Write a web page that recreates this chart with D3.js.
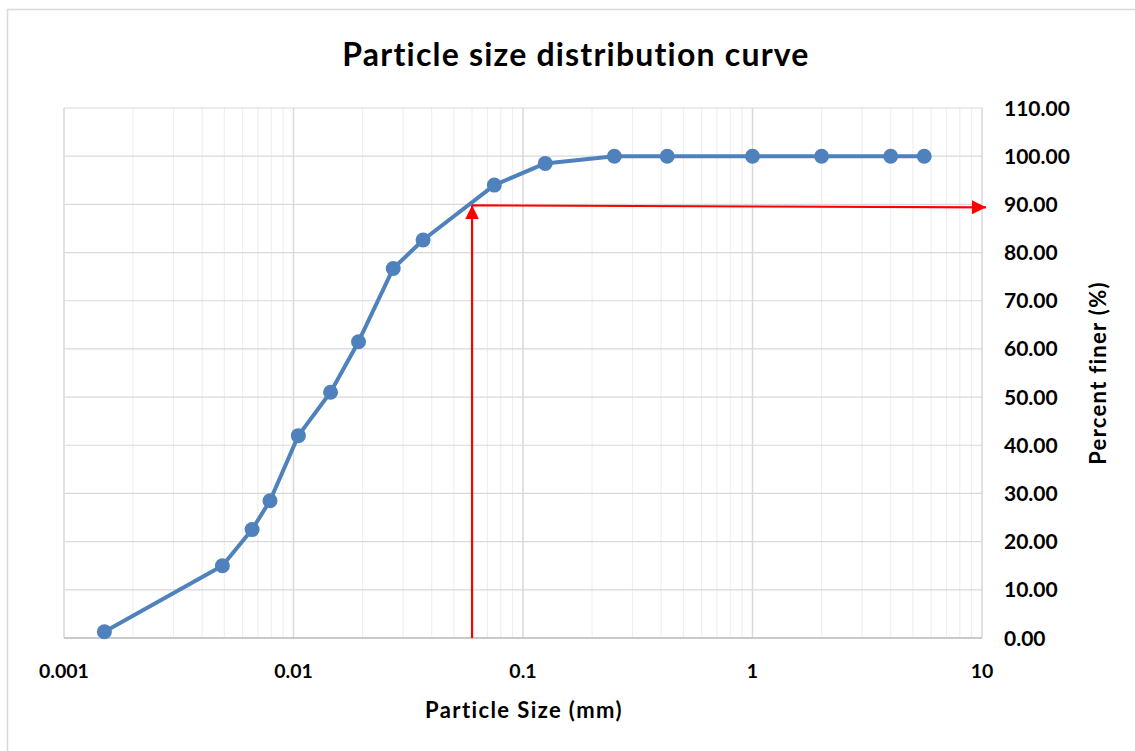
<!DOCTYPE html>
<html>
<head>
<meta charset="utf-8">
<script src="https://cdn.jsdelivr.net/npm/d3@7"></script>
<style>
  body { margin: 0; background: #fff; }
  text { font-family: Lato, "Open Sans", sans-serif; font-weight: bold; fill: #000; }
</style>
</head>
<body>
<div id="chart"></div>
<script>
// sieve / hydrometer data
const sizes   = [0.0015, 0.0049, 0.0066, 0.0079, 0.0105, 0.0145, 0.0192, 0.0272, 0.0367, 0.075, 0.125, 0.25, 0.425, 1, 2, 4, 5.6];
const finer   = [1.3, 15.0, 22.5, 28.5, 42.0, 51.0, 61.5, 76.7, 82.6, 94.0, 98.5, 100, 100, 100, 100, 100, 100];
const xTicks  = [0.001, 0.01, 0.1, 1, 10];
const yTicks  = [0, 10, 20, 30, 40, 50, 60, 70, 80, 90, 100, 110];
// D90 construction lines
const d90     = 0.06;
const p90     = 90;

const W = 1135, H = 751;
const margin = { left: 64, right: 153, top: 108, bottom: 113 };

const svg = d3.select('#chart').append('svg')
  .attr('width', W).attr('height', H);

// outer chart border
svg.append('rect')
  .attr('x', 7.5).attr('y', 9.5)
  .attr('width', W).attr('height', H)
  .attr('fill', '#fff').attr('stroke', '#d9d9d9').attr('stroke-width', 1.5);

const x = d3.scaleLog().domain([0.001, 10]).range([margin.left, W - margin.right]);
const y = d3.scaleLinear().domain([0, 110]).range([H - margin.bottom, margin.top]);

const g = svg.append('g');

// minor vertical gridlines
const minor = [];
for (let e = -3; e < 1; e++) {
  for (let k = 2; k <= 9; k++) minor.push(k * Math.pow(10, e));
}
g.selectAll('.minor').data(minor).enter().append('line')
  .attr('x1', d => x(d)).attr('x2', d => x(d))
  .attr('y1', y(0)).attr('y2', y(110))
  .attr('stroke', '#efefef').attr('stroke-width', 1.2);

// horizontal gridlines
g.selectAll('.hgrid').data(yTicks).enter().append('line')
  .attr('x1', x(0.001)).attr('x2', x(10))
  .attr('y1', d => y(d)).attr('y2', d => y(d))
  .attr('stroke', '#d9d9d9').attr('stroke-width', 1.2);

// major vertical gridlines
g.selectAll('.vgrid').data(xTicks).enter().append('line')
  .attr('x1', d => x(d)).attr('x2', d => x(d))
  .attr('y1', y(0)).attr('y2', y(110))
  .attr('stroke', '#d9d9d9').attr('stroke-width', 1.5);

// x axis line
g.append('line')
  .attr('x1', x(0.001)).attr('x2', x(10))
  .attr('y1', y(0)).attr('y2', y(0))
  .attr('stroke', '#bfbfbf').attr('stroke-width', 1.5);

// x tick labels
g.selectAll('.xt').data(xTicks).enter().append('text')
  .attr('x', d => x(d)).attr('y', y(0) + 40)
  .attr('text-anchor', 'middle')
  .style('font-size', '19.5px')
  .text(d => d3.format('~g')(d));

// y tick labels (right side)
g.selectAll('.yt').data(yTicks).enter().append('text')
  .attr('x', x(10) + 22).attr('y', d => y(d) + 7.5)
  .style('font-size', '21px')
  .text(d => d.toFixed(2));

// axis titles
svg.append('text')
  .attr('x', (x(0.001) + x(10)) / 2 + 1).attr('y', 718)
  .attr('text-anchor', 'middle')
  .style('font-size', '22px')
  .style('letter-spacing', '1.4px')
  .text('Particle Size (mm)');

svg.append('text')
  .attr('transform', `translate(1106, ${(y(0) + y(110)) / 2}) rotate(-90)`)
  .attr('text-anchor', 'middle')
  .style('font-size', '22px')
  .style('letter-spacing', '1.3px')
  .text('Percent finer (%)');

svg.append('text')
  .attr('x', 576).attr('y', 66)
  .attr('text-anchor', 'middle')
  .style('font-size', '32px')
  .style('letter-spacing', '1.2px')
  .text('Particle size distribution curve');

// data line
const pts = sizes.map((s, i) => [s, finer[i]]);
const line = d3.line().x(d => x(d[0])).y(d => y(d[1]));

g.append('path')
  .datum(pts)
  .attr('d', line)
  .attr('fill', 'none')
  .attr('stroke', '#4f81bd')
  .attr('stroke-width', 4)
  .attr('stroke-linejoin', 'round');

g.selectAll('.pt').data(pts).enter().append('circle')
  .attr('cx', d => x(d[0])).attr('cy', d => y(d[1]))
  .attr('r', 7.5)
  .attr('fill', '#4f81bd');

// red D90 arrows
const defs = svg.append('defs');
defs.append('marker')
  .attr('id', 'arrow')
  .attr('viewBox', '0 0 10 10')
  .attr('refX', 10).attr('refY', 5)
  .attr('markerWidth', 14).attr('markerHeight', 14)
  .attr('markerUnits', 'userSpaceOnUse')
  .attr('orient', 'auto')
  .append('path')
  .attr('d', 'M0,0 L10,5 L0,10 Z')
  .attr('fill', '#ff0000');

g.append('line')
  .attr('x1', x(d90)).attr('x2', x(d90))
  .attr('y1', y(0)).attr('y2', y(p90) + 1)
  .attr('stroke', '#ff0000').attr('stroke-width', 2.2)
  .attr('marker-end', 'url(#arrow)');

g.append('line')
  .attr('x1', x(d90)).attr('x2', x(10) + 4)
  .attr('y1', y(p90) + 1).attr('y2', y(p90) + 3)
  .attr('stroke', '#ff0000').attr('stroke-width', 2.2)
  .attr('marker-end', 'url(#arrow)');
</script>
</body>
</html>
